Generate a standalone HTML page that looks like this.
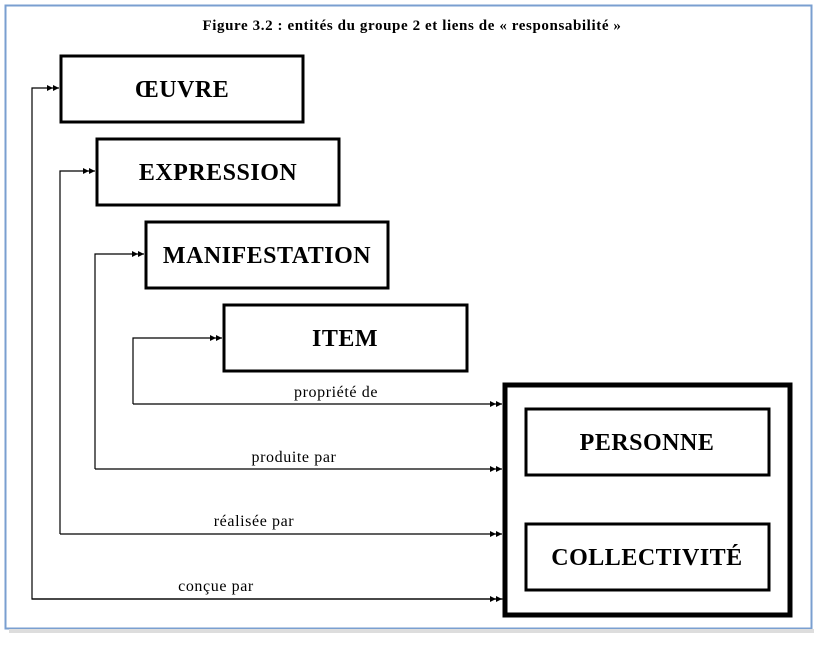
<!DOCTYPE html>
<html><head><meta charset="utf-8"><style>
body{margin:0;background:#fff;width:826px;height:644px;overflow:hidden}
</style></head><body>
<svg width="826" height="644" xmlns="http://www.w3.org/2000/svg" font-family="Liberation Serif, serif">
<defs>
<marker id="a" markerWidth="12" markerHeight="6" refX="12" refY="3" orient="auto" markerUnits="userSpaceOnUse">
<path d="M0,0 L6,3 L0,6Z M6,0 L12,3 L6,6Z" fill="#000"/>
</marker>
</defs>
<rect x="5.5" y="5.5" width="806" height="623" fill="#fff" stroke="#7a9fd0" stroke-width="2"/>
<rect x="9" y="629" width="805" height="4" fill="#ddd"/>
<text x="412" y="30" text-anchor="middle" font-size="15" font-weight="bold" letter-spacing="0.6">Figure 3.2 : entités du groupe 2 et liens de « responsabilité »</text>
<g fill="none" stroke="#000" stroke-width="3">
<rect x="61" y="56" width="242" height="66"/>
<rect x="97" y="139" width="242" height="66"/>
<rect x="146" y="222" width="242" height="66"/>
<rect x="224" y="305" width="243" height="66"/>
<rect x="526" y="409" width="243" height="66"/>
<rect x="526" y="524" width="243" height="66"/>
<rect x="505" y="385" width="285" height="230" stroke-width="5"/>
</g>
<g font-size="24" font-weight="bold" text-anchor="middle" letter-spacing="0.5">
<text x="182" y="97">ŒUVRE</text>
<text x="218" y="180">EXPRESSION</text>
<text x="267" y="263">MANIFESTATION</text>
<text x="345" y="346">ITEM</text>
<text x="647" y="450">PERSONNE</text>
<text x="647" y="565">COLLECTIVITÉ</text>
</g>
<g fill="none" stroke="#000" stroke-width="1.2">
<polyline points="503,599 32,599 32,88 59,88" marker-end="url(#a)"/>
<polyline points="32,599 502,599" marker-end="url(#a)"/>
<polyline points="60,534 60,171 95,171" marker-end="url(#a)"/>
<polyline points="60,534 502,534" marker-end="url(#a)"/>
<polyline points="95,469 95,254 144,254" marker-end="url(#a)"/>
<polyline points="95,469 502,469" marker-end="url(#a)"/>
<polyline points="133,404 133,338 222,338" marker-end="url(#a)"/>
<polyline points="133,404 502,404" marker-end="url(#a)"/>
</g>
<g font-size="16" text-anchor="middle" letter-spacing="0.6">
<text x="336" y="397">propriété de</text>
<text x="294" y="462">produite par</text>
<text x="254" y="526">réalisée par</text>
<text x="216" y="591">conçue par</text>
</g>
</svg>
</body></html>
